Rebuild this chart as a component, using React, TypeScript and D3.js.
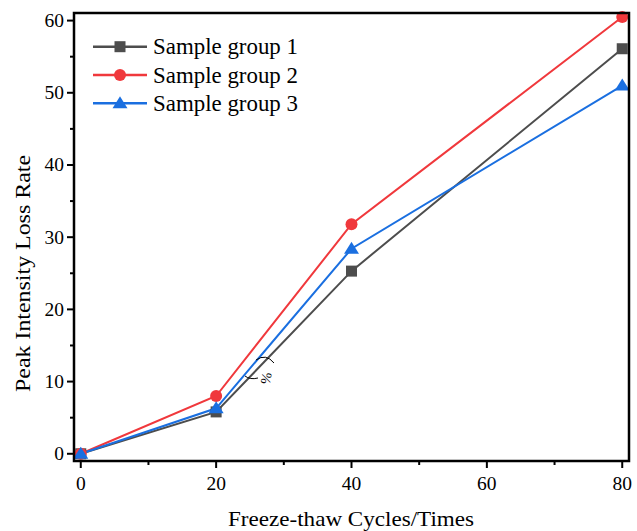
import React from "react";
import * as d3 from "d3";

const cycles = [0, 20, 40, 80];
const group1 = [0, 5.8, 25.3, 56.1];
const group2 = [0, 8.0, 31.8, 60.5];
const group3 = [0, 6.3, 28.4, 51.0];
const seriesNames = ["Sample group 1", "Sample group 2", "Sample group 3"];
const seriesColors = ["#4d4d4d", "#f0383c", "#1a6fe0"];
const seriesShapes = ["square", "circle", "triangle"];
const xTicks = [0, 20, 40, 60, 80];
const xMinor = [10, 30, 50, 70];
const yTicks = [0, 10, 20, 30, 40, 50, 60];
const yMinor = [5, 15, 25, 35, 45, 55];

const W = 637, H = 531;
const L = 74, R = 629, T = 13, B = 461;
const FONT = "'Liberation Serif', 'Times New Roman', serif";

function Marker({ shape, x, y, color }: { shape: string; x: number; y: number; color: string }) {
  if (shape === "square") return <rect x={x - 5.5} y={y - 5.5} width={11} height={11} fill={color} />;
  if (shape === "circle") return <circle cx={x} cy={y} r={6} fill={color} />;
  return <path d={`M${x},${y - 7} L${x + 7.5},${y + 5} L${x - 7.5},${y + 5} Z`} fill={color} />;
}

export default function App() {
  const x = d3.scaleLinear().domain([-1, 81]).range([L, R]);
  const y = d3.scaleLinear().domain([-1, 61.05]).range([B, T]);
  const all = [group1, group2, group3];
  const line = d3.line<number>().x((_, i) => x(cycles[i])).y((d) => y(d));
  const drawOrder = [0, 1, 2];
  return (
    <svg width={W} height={H} style={{ position: "absolute", left: 0, top: 0 }}>
      <rect width={W} height={H} fill="#fff" />
      {drawOrder.map((s) => (
        <path key={s} d={line(all[s]) as string} fill="none" stroke={seriesColors[s]} strokeWidth={2} />
      ))}
      {drawOrder.map((s) =>
        all[s].map((v, i) => (
          <Marker key={`${s}-${i}`} shape={seriesShapes[s]} x={x(cycles[i])} y={y(v)} color={seriesColors[s]} />
        ))
      )}
      <path d="M256,360 Q266,353 274,363" fill="none" stroke="#000" strokeWidth={1} />
      <path d="M245,376 Q250,380 258,378" fill="none" stroke="#000" strokeWidth={1} />
      <text x={265} y={378} fontFamily={FONT} fontSize={14} transform="rotate(100,265,378)" textAnchor="middle" dominantBaseline="middle">%</text>
      <rect x={L} y={T} width={R - L} height={B - T} fill="none" stroke="#000" strokeWidth={2.5} />
      {xTicks.map((t) => (
        <g key={`xt${t}`}>
          <line x1={x(t)} x2={x(t)} y1={B} y2={B + 7} stroke="#000" strokeWidth={2} />
          <text x={x(t)} y={490} fontFamily={FONT} fontSize={19.5} textAnchor="middle">{t}</text>
        </g>
      ))}
      {xMinor.map((t) => (
        <line key={`xm${t}`} x1={x(t)} x2={x(t)} y1={B} y2={B + 4} stroke="#000" strokeWidth={2} />
      ))}
      {yTicks.map((t) => (
        <g key={`yt${t}`}>
          <line x1={L - 7} x2={L} y1={y(t)} y2={y(t)} stroke="#000" strokeWidth={2} />
          <text x={L - 10} y={y(t) + 6.5} fontFamily={FONT} fontSize={19.5} textAnchor="end">{t}</text>
        </g>
      ))}
      {yMinor.map((t) => (
        <line key={`ym${t}`} x1={L - 4} x2={L} y1={y(t)} y2={y(t)} stroke="#000" strokeWidth={2} />
      ))}
      <text x={351} y={526} fontFamily={FONT} fontSize={21} textAnchor="middle" textLength={246} lengthAdjust="spacingAndGlyphs">Freeze-thaw Cycles/Times</text>
      <text transform={`translate(30,273.5) rotate(-90)`} fontFamily={FONT} fontSize={22} textAnchor="middle" textLength={237} lengthAdjust="spacingAndGlyphs">Peak Intensity Loss Rate</text>
      {seriesNames.map((n, i) => {
        const ly = 46.7 + i * 28.3;
        return (
          <g key={n}>
            <line x1={93} x2={147} y1={ly} y2={ly} stroke={seriesColors[i]} strokeWidth={2.5} />
            <Marker shape={seriesShapes[i]} x={120} y={ly} color={seriesColors[i]} />
            <text x={153} y={ly + 7.5} fontFamily={FONT} fontSize={23} textLength={145} lengthAdjust="spacingAndGlyphs">{n}</text>
          </g>
        );
      })}
    </svg>
  );
}
